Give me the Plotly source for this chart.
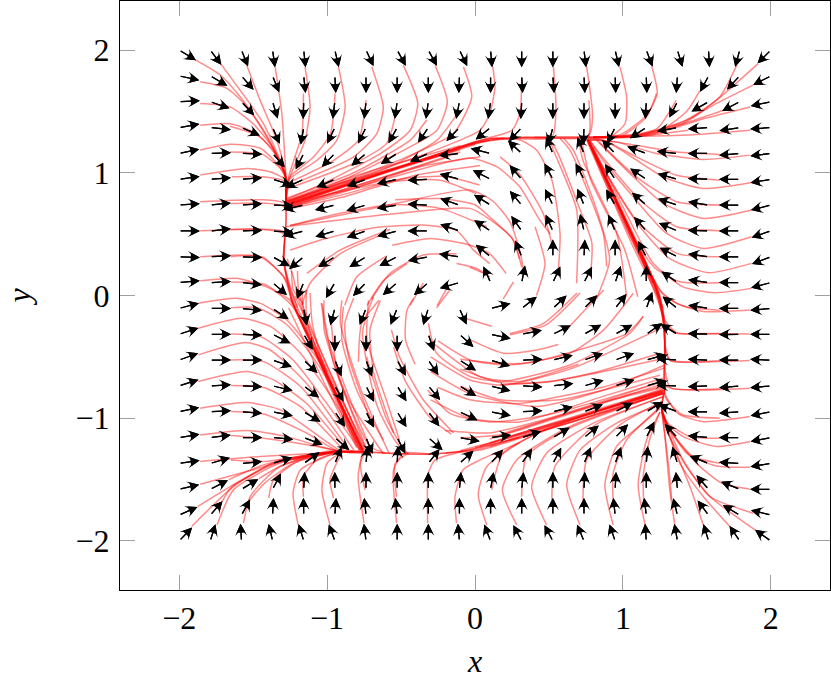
import math
import plotly.graph_objects as go

WIDTH = 831
HEIGHT = 683
L, R, T, B = 120, 1, 1, 93

grid_x = [-2 + i * 4 / 19 for i in range(20)]
grid_y = [2 - i * 4 / 19 for i in range(20)]

# arrow direction, degrees on screen, rows top to bottom
angles = [
    [-31, -53, -68, -82, -84, -77, -65, -61, -61, -64, -85, -90, -90, -83, -77, -69, -73, -87, -105, -135],
    [-12, -30, -49, -68, -84, -87, -90, -90, -90, -92, -90, -87, -86, -87, -88, -88, -94, -118, -133, -153],
    [3, -19, -47, -73, -92, -97, -96, -98, -98, -101, -98, -93, -90, -90, -90, -93, -117, -150, -152, -168],
    [10, -6, -23, -66, -100, -116, -117, -119, -124, -134, -141, -133, -105, -92, -117, -147, -170, -176, -171, -176],
    [12, 2, -2, -49, -117, -134, -140, -147, -156, -174, 166, 137, 113, 112, 134, 160, 174, 180, -175, -173],
    [8, 4, 4, -17, -155, -156, -160, -167, -177, 165, 153, 131, 118, 118, 124, 146, 164, 178, 180, -170],
    [4, 6, 4, -2, -167, -166, -164, -171, 177, 161, 148, 130, 116, 112, 120, 139, 162, 171, 180, -166],
    [0, 6, 2, -4, -165, -163, -161, -165, 180, 161, 147, 125, 114, 103, 113, 131, 157, 178, 180, -161],
    [-2, 3, -2, -29, -140, -148, -148, -153, -169, 172, 141, 112, 90, 87, 90, 118, 153, 172, 180, -159],
    [5, 3, -6, -41, -113, -120, -134, -139, -139, -164, 114, 79, 65, 63, 71, 90, 145, 172, 180, -165],
    [15, 0, -6, -34, -80, -105, -111, -112, -107, -66, 14, 38, 43, 45, 52, 70, 141, 171, 180, -175],
    [18, 0, -3, -27, -60, -90, -90, -90, -71, -42, -12, 11, 26, 29, 29, 35, 149, 178, -179, 180],
    [20, 0, 0, -19, -43, -68, -70, -61, -56, -32, -17, 2, 14, 20, 20, 16, 176, 178, 180, 178],
    [18, 3, -2, -13, -37, -61, -63, -59, -50, -31, -14, -3, 7, 16, 18, 16, 178, -178, -175, -175],
    [12, 3, -4, -11, -31, -56, -63, -59, -53, -25, -11, 3, 14, 21, 27, 31, 160, 180, -176, -169],
    [9, 7, 0, -5, -21, -41, -68, -63, -41, -10, 7, 18, 31, 39, 46, 63, 133, 175, 180, -169],
    [8, 16, 5, 17, 35, 68, 85, 87, 52, 42, 48, 55, 62, 67, 70, 85, 107, 158, 177, -171],
    [13, 27, 31, 62, 87, 90, 90, 90, 90, 85, 80, 84, 90, 87, 87, 90, 95, 131, 158, 180],
    [24, 49, 61, 87, 91, 86, 96, 96, 90, 90, 90, 90, 90, 90, 96, 97, 104, 127, 149, 166],
    [46, 73, 93, 103, 107, 110, 97, 90, 90, 95, 111, 118, 118, 113, 109, 94, 100, 107, 124, 145],
]
arrow_len = 0.14

# trajectories, as (x, y) in axis units
paths_top_left = [
    [(-1.89, 1.92), (-1.72, 1.795), (-1.588, 1.619), (-1.43, 1.347), (-1.284, 0.995), (-1.28, 0.75)],
    [(-1.858, 1.741), (-1.68, 1.69), (-1.54, 1.537), (-1.395, 1.266), (-1.284, 0.98), (-1.28, 0.75)],
    [(-1.72, 1.89), (-1.588, 1.673), (-1.43, 1.4), (-1.28, 0.97), (-1.28, 0.75)],
    [(-1.543, 1.877), (-1.453, 1.592), (-1.34, 1.266), (-1.28, 0.995), (-1.28, 0.75)],
    [(-1.351, 1.863), (-1.306, 1.483), (-1.28, 0.99), (-1.28, 0.75)],
    [(-1.858, 1.565), (-1.656, 1.537), (-1.5, 1.4), (-1.365, 1.2), (-1.28, 0.97), (-1.28, 0.75)],
    [(-1.858, 1.388), (-1.656, 1.4), (-1.5, 1.334), (-1.365, 1.185), (-1.28, 0.965), (-1.28, 0.75)],
    [(-1.656, 1.38), (-1.452, 1.293), (-1.34, 1.13), (-1.28, 0.965), (-1.28, 0.75)],
    [(-1.858, 1.185), (-1.656, 1.233), (-1.452, 1.2), (-1.32, 1.05), (-1.28, 0.955), (-1.28, 0.75)],
    [(-1.656, 1.17), (-1.44, 1.152), (-1.32, 1.04), (-1.28, 0.955), (-1.28, 0.75)],
    [(-1.858, 0.981), (-1.54, 1.035), (-1.385, 1.008), (-1.28, 0.94), (-1.28, 0.75)],
    [(-1.645, 0.967), (-1.44, 0.967), (-1.28, 0.926), (-1.28, 0.75)],
    [(-1.149, 1.863), (-1.115, 1.537), (-1.149, 1.266), (-1.25, 0.967), (-1.28, 0.75)],
    [(-1.16, 1.646), (-1.17, 1.32), (-1.26, 0.967), (-1.28, 0.75)],
    [(-0.946, 1.646), (-0.977, 1.32), (-1.09, 1.13), (-1.26, 0.955), (-1.28, 0.75)],
    [(-0.923, 1.863), (-0.878, 1.537), (-0.934, 1.266), (-1.07, 1.1), (-1.26, 0.94), (-1.28, 0.75)],
    [(-0.736, 1.592), (-0.788, 1.266), (-0.957, 1.1), (-1.26, 0.92)],
    [(-0.698, 1.863), (-0.62, 1.537), (-0.664, 1.32), (-0.82, 1.13), (-1.25, 0.9)],
    [(-0.541, 1.456), (-0.597, 1.24), (-0.82, 1.076), (-1.27, 0.87)],
    [(-0.485, 1.877), (-0.387, 1.565), (-0.438, 1.347), (-0.64, 1.157), (-0.85, 1.02), (-1.05, 0.9), (-1.28, 0.78)],
    [(-0.326, 1.43), (-0.438, 1.266), (-0.82, 1.0), (-1.28, 0.79)],
    [(-0.27, 1.877), (-0.187, 1.578), (-0.257, 1.347), (-0.48, 1.185), (-0.932, 0.92), (-1.28, 0.77)],
    [(-0.134, 1.456), (-0.257, 1.266), (-0.595, 1.04), (-1.28, 0.765)],
    [(-0.078, 1.863), (-0.022, 1.619), (-0.146, 1.32), (-0.48, 1.12), (-0.82, 0.96), (-1.28, 0.755)],
    [(0.12, 1.863), (0.135, 1.7), (0.1, 1.483), (0.034, 1.347), (-0.3, 1.17), (-0.7, 1.0), (-1.28, 0.76)],
    [(0.315, 1.755), (0.304, 1.483), (0.25, 1.347), (0.08, 1.28), (-0.25, 1.14), (-0.7, 0.98), (-1.28, 0.75)],
]
paths_top_edge = [
    [(0.53, 1.863), (0.547, 1.537), (0.52, 1.293), (0.1, 1.28), (-0.2, 1.17), (-0.7, 0.98), (-1.28, 0.75)],
    [(0.755, 1.863), (0.795, 1.456), (0.766, 1.293), (0.35, 1.29), (0.05, 1.27), (-0.3, 1.13), (-1.28, 0.73)],
    [(0.77, 1.59), (0.777, 1.35), (0.76, 1.293), (0.3, 1.285), (0.0, 1.25), (-0.4, 1.09), (-1.28, 0.74)],
    [(0.98, 1.863), (1.025, 1.619), (1.014, 1.4), (0.912, 1.293), (0.76, 1.29), (0.35, 1.29), (0.0, 1.24), (-1.28, 0.72)],
    [(0.2, 1.285), (0.0, 1.24), (-0.5, 1.05), (-1.28, 0.74)],
    [(0.1, 1.27), (-0.1, 1.2), (-0.6, 1.01), (-1.28, 0.735)],
    [(0.0, 1.23), (-0.4, 1.08), (-0.9, 0.89), (-1.28, 0.745)],
    [(-0.1, 1.19), (-0.5, 1.04), (-0.9, 0.88), (-1.28, 0.73)],
    [(-0.1, 1.22), (-0.4, 1.12), (-0.85, 0.96), (-1.28, 0.77)],
    [(-0.2, 1.15), (-0.6, 1.02), (-0.95, 0.9), (-1.28, 0.76)],
    [(-0.1, 1.17), (-0.5, 1.01), (-0.9, 0.86), (-1.28, 0.72)],
    [(-0.2, 1.12), (-0.6, 0.97), (-1.0, 0.82), (-1.28, 0.71)],
    [(1.227, 1.646), (1.16, 1.456), (0.98, 1.293), (0.77, 1.29), (0.4, 1.29)],
    [(1.195, 1.868), (1.232, 1.646), (1.16, 1.47), (0.98, 1.31), (0.77, 1.29)],
    [(1.914, 1.89), (1.633, 1.592), (1.407, 1.4), (1.137, 1.307), (0.8, 1.29)],
    [(1.77, 1.877), (1.655, 1.619), (1.43, 1.43), (1.137, 1.32), (0.8, 1.29)],
    [(1.88, 1.714), (1.633, 1.565), (1.407, 1.415), (1.09, 1.3), (0.8, 1.29)],
    [(1.86, 1.537), (1.543, 1.44), (1.18, 1.307), (0.8, 1.29)],
    [(1.68, 1.51), (1.407, 1.4), (1.05, 1.293), (0.8, 1.285)],
    [(1.52, 1.67), (1.43, 1.5), (1.23, 1.33), (0.8, 1.29)],
    [(1.36, 1.59), (1.23, 1.36), (1.0, 1.295)],
    [(1.86, 1.347), (1.43, 1.307), (0.8, 1.29)],
    [(1.442, 1.347), (1.05, 1.29), (0.8, 1.285)],
]
paths_right = [
    [(1.859, 1.144), (1.543, 1.109), (1.227, 1.157), (0.95, 1.252), (0.77, 1.27)],
    [(1.655, 1.15), (1.363, 1.17), (0.95, 1.252), (0.77, 1.27)],
    [(1.87, 0.921), (1.543, 0.872), (1.273, 0.967), (1.025, 1.157), (0.867, 1.266), (0.76, 1.28)],
    [(1.655, 0.94), (1.363, 0.98), (1.09, 1.13), (0.867, 1.266), (0.76, 1.28)],
    [(1.87, 0.696), (1.543, 0.628), (1.273, 0.75), (1.047, 0.995), (0.822, 1.266)],
    [(1.655, 0.737), (1.363, 0.764), (1.09, 0.967), (0.84, 1.25)],
    [(1.87, 0.479), (1.543, 0.384), (1.295, 0.506), (1.07, 0.804), (0.867, 1.1), (0.777, 1.266)],
    [(1.655, 0.528), (1.363, 0.56), (1.115, 0.778), (0.867, 1.12), (0.77, 1.27)],
    [(1.87, 0.262), (1.577, 0.186), (1.317, 0.3), (1.115, 0.56), (0.912, 0.94), (0.765, 1.26)],
    [(1.655, 0.316), (1.363, 0.343), (1.09, 0.615), (0.867, 1.04), (0.76, 1.27)],
    [(1.87, 0.058), (1.62, 0.023), (1.407, 0.07), (1.205, 0.262), (1.0, 0.723), (0.8, 1.21)],
    [(1.655, 0.104), (1.385, 0.112), (1.22, 0.22), (1.08, 0.45), (0.91, 0.88), (0.77, 1.24)],
    [(1.858, -0.118), (1.543, -0.13), (1.363, -0.064), (1.25, 0.045), (1.08, 0.45), (0.76, 1.27)],
    [(1.655, -0.12), (1.42, -0.09), (1.27, 0.01), (1.09, 0.42), (0.9, 0.92), (0.76, 1.27)],
    [(1.858, -0.314), (1.543, -0.31), (1.363, -0.308), (1.284, -0.227), (1.24, 0.018), (1.08, 0.45), (0.78, 1.24)],
    [(1.655, -0.31), (1.36, -0.3), (1.284, -0.2), (1.23, 0.04), (1.05, 0.5), (0.8, 1.19)],
    [(1.858, -0.53), (1.317, -0.525), (1.284, -0.444), (1.284, -0.227), (1.24, 0.018), (1.07, 0.48), (0.76, 1.27)],
    [(1.655, -0.53), (1.32, -0.53), (1.284, -0.4), (1.27, -0.1), (1.2, 0.12), (0.98, 0.7), (0.77, 1.25)],
    [(1.858, -0.756), (1.543, -0.77), (1.295, -0.742), (1.284, -0.39), (1.25, 0.0), (1.02, 0.6), (0.76, 1.28)],
    [(1.655, -0.76), (1.32, -0.75), (1.284, -0.6), (1.28, -0.25), (1.22, 0.06), (0.95, 0.77)],
    [(1.858, -0.987), (1.543, -1.028), (1.37, -0.96), (1.284, -0.797), (1.284, -0.4), (1.24, 0.02), (0.86, 1.0)],
    [(1.655, -1.0), (1.4, -0.97), (1.284, -0.82), (1.284, -0.3), (1.2, 0.14), (0.77, 1.26)],
    [(1.27, -0.1), (1.1, 0.38), (0.9, 0.9), (0.76, 1.27)],
    [(1.24, -0.02), (1.06, 0.42), (0.88, 0.92), (0.75, 1.28)],
    [(1.28, -0.18), (1.12, 0.32), (0.94, 0.82), (0.77, 1.27)],
    [(1.2, 0.1), (1.02, 0.56), (0.87, 0.98), (0.77, 1.26)],
    [(1.16, 0.2), (0.98, 0.66), (0.84, 1.04), (0.76, 1.27)],
]
paths_bottom_right = [
    [(1.86, -1.19), (1.633, -1.23), (1.407, -1.15), (1.295, -1.04), (1.262, -0.93), (1.284, -0.75)],
    [(1.655, -1.164), (1.453, -1.15), (1.295, -1.03), (1.262, -0.93), (1.284, -0.75)],
    [(1.86, -1.4), (1.633, -1.39), (1.43, -1.285), (1.295, -1.04), (1.262, -0.92), (1.284, -0.75)],
    [(1.655, -1.367), (1.47, -1.31), (1.32, -1.1), (1.262, -0.92)],
    [(1.88, -1.774), (1.588, -1.638), (1.407, -1.34), (1.295, -1.04), (1.262, -0.92)],
    [(1.893, -1.91), (1.588, -1.638), (1.43, -1.395), (1.295, -1.095), (1.262, -0.93)],
    [(1.723, -1.883), (1.543, -1.638), (1.385, -1.367), (1.284, -1.03), (1.262, -0.93)],
    [(1.86, -1.578), (1.67, -1.53), (1.5, -1.37), (1.31, -1.08), (1.262, -0.93)],
    [(1.543, -1.87), (1.453, -1.557), (1.317, -1.15), (1.262, -0.95)],
    [(1.351, -1.87), (1.317, -1.584), (1.284, -1.15), (1.262, -0.93)],
    [(1.33, -1.666), (1.31, -1.4), (1.28, -1.1), (1.262, -0.93)],
    [(1.15, -1.87), (1.103, -1.543), (1.16, -1.177), (1.25, -0.95)],
    [(1.14, -1.666), (1.137, -1.475), (1.18, -1.177), (1.25, -0.95)],
    [(0.934, -1.87), (0.878, -1.543), (0.957, -1.23), (1.137, -1.04), (1.25, -0.92)],
    [(0.934, -1.666), (0.934, -1.448), (1.025, -1.177), (1.25, -0.91)],
    [(0.71, -1.87), (0.62, -1.543), (0.71, -1.26), (0.957, -1.04), (1.262, -0.878)],
    [(0.73, -1.666), (0.755, -1.34), (0.98, -1.054), (1.262, -0.865)],
    [(0.484, -1.87), (0.383, -1.557), (0.484, -1.285), (0.8, -1.04), (1.273, -0.824)],
    [(0.52, -1.666), (0.54, -1.394), (0.82, -1.05), (1.273, -0.824)],
    [(0.282, -1.87), (0.185, -1.584), (0.282, -1.34), (0.642, -1.068), (1.273, -0.797)],
    [(0.315, -1.64), (0.35, -1.31), (0.642, -1.08), (1.273, -0.797)],
    [(0.08, -1.87), (0.022, -1.625), (0.08, -1.394), (0.417, -1.122), (1.273, -0.78)],
    [(0.113, -1.584), (0.19, -1.285), (0.53, -1.068), (1.273, -0.77)],
]
paths_bottom_left = [
    [(-1.87, -0.064), (-1.62, -0.023), (-1.45, -0.064), (-1.272, -0.2), (-1.047, -0.55), (-0.845, -1.04), (-0.76, -1.26)],
    [(-1.65, -0.1), (-1.47, -0.1), (-1.27, -0.24), (-1.03, -0.62), (-0.76, -1.26)],
    [(-1.87, -0.267), (-1.575, -0.186), (-1.38, -0.254), (-1.18, -0.47), (-0.93, -0.905), (-0.77, -1.26)],
    [(-1.65, -0.314), (-1.45, -0.335), (-1.23, -0.525), (-0.96, -0.95), (-0.78, -1.26)],
    [(-1.87, -0.484), (-1.55, -0.384), (-1.385, -0.444), (-1.14, -0.715), (-0.82, -1.258)],
    [(-1.65, -0.525), (-1.43, -0.539), (-1.18, -0.742), (-0.85, -1.26)],
    [(-1.87, -0.7), (-1.54, -0.62), (-1.362, -0.688), (-1.14, -0.878), (-0.866, -1.258)],
    [(-1.65, -0.734), (-1.43, -0.75), (-1.18, -0.905), (-0.89, -1.258)],
    [(-1.858, -0.919), (-1.54, -0.873), (-1.315, -0.932), (-1.115, -1.095), (-0.9, -1.27), (-0.75, -1.27)],
    [(-1.65, -0.946), (-1.43, -0.965), (-1.14, -1.12), (-0.92, -1.27), (-0.75, -1.27)],
    [(-1.858, -1.136), (-1.54, -1.1), (-1.272, -1.15), (-1.05, -1.23), (-0.87, -1.278), (-0.7, -1.28)],
    [(-1.65, -1.14), (-1.43, -1.163), (-1.07, -1.23), (-0.87, -1.278), (-0.7, -1.28)],
    [(-1.858, -1.353), (-1.452, -1.312), (-1.047, -1.285), (-0.82, -1.27), (-0.6, -1.285)],
    [(-1.65, -1.34), (-1.43, -1.353), (-1.047, -1.285), (-0.82, -1.27)],
    [(-1.23, -1.34), (-1.0, -1.285), (-0.82, -1.27)],
    [(-1.858, -1.538), (-1.5, -1.42), (-1.272, -1.34), (-0.955, -1.27), (-0.7, -1.28)],
    [(-1.665, -1.5), (-1.43, -1.38), (-1.13, -1.3), (-0.9, -1.27)],
    [(-1.463, -1.494), (-1.32, -1.394), (-1.0, -1.27), (-0.75, -1.27)],
    [(-1.876, -1.72), (-1.655, -1.557), (-1.362, -1.366), (-0.93, -1.27)],
    [(-1.71, -1.68), (-1.645, -1.56), (-1.34, -1.366), (-0.93, -1.27)],
    [(-1.524, -1.666), (-1.41, -1.516), (-1.227, -1.367), (-0.93, -1.27)],
    [(-1.914, -1.88), (-1.633, -1.557), (-1.34, -1.35), (-0.93, -1.27)],
    [(-1.744, -1.87), (-1.633, -1.584), (-1.32, -1.366), (-0.93, -1.27)],
    [(-1.565, -1.855), (-1.52, -1.638), (-1.32, -1.394), (-0.93, -1.27)],
    [(-1.395, -1.65), (-1.362, -1.5), (-1.18, -1.34), (-0.93, -1.275)],
    [(-1.195, -1.87), (-1.23, -1.61), (-1.18, -1.42), (-0.93, -1.275)],
    [(-1.16, -1.64), (-1.16, -1.475), (-1.07, -1.34), (-0.93, -1.28)],
    [(-0.98, -1.87), (-1.035, -1.584), (-1.0, -1.367), (-0.9, -1.275)],
    [(-0.957, -1.65), (-0.98, -1.5), (-0.9, -1.28)],
    [(-0.75, -1.855), (-0.79, -1.475), (-0.76, -1.27)],
    [(-0.743, -1.584), (-0.775, -1.367), (-0.74, -1.27)],
    [(-0.53, -1.855), (-0.55, -1.42), (-0.48, -1.285), (-0.3, -1.293)],
    [(-0.53, -1.64), (-0.54, -1.37), (-0.45, -1.285)],
    [(-0.32, -1.855), (-0.315, -1.448), (-0.27, -1.34), (-0.08, -1.27), (0.3, -1.16)],
    [(-0.125, -1.855), (-0.135, -1.64), (-0.08, -1.42), (0.034, -1.34), (0.3, -1.2)],
    [(-0.7, -1.28), (-0.35, -1.293), (-0.15, -1.28), (0.034, -1.26), (0.42, -1.12), (1.27, -0.79)],
    [(-0.6, -1.285), (-0.3, -1.293), (-0.1, -1.27), (0.1, -1.22), (0.6, -1.05), (1.27, -0.8)],
    [(-0.2, -1.285), (0.034, -1.25), (0.5, -1.07), (1.27, -0.78)],
    [(-0.1, -1.265), (0.2, -1.17), (0.7, -0.99), (1.27, -0.775)],
    [(0.0, -1.24), (0.4, -1.09), (0.9, -0.91), (1.27, -0.785)],
    [(0.1, -1.2), (0.5, -1.05), (0.9, -0.9), (1.27, -0.77)],
    [(0.034, -1.23), (0.6, -1.03), (1.27, -0.76)],
    [(0.1, -1.23), (0.4, -1.12), (0.85, -0.96), (1.27, -0.8)],
    [(0.2, -1.16), (0.6, -1.02), (0.95, -0.9), (1.27, -0.79)],
    [(0.1, -1.17), (0.5, -1.01), (0.9, -0.86), (1.27, -0.75)],
    [(0.2, -1.12), (0.6, -0.97), (1.0, -0.82), (1.27, -0.74)],
]
paths_left = [
    [(-1.858, 0.764), (-1.43, 0.78), (-1.284, 0.75), (-1.294, 0.29), (-1.238, -0.04), (-1.14, -0.31), (-0.76, -1.26)],
    [(-1.65, 0.75), (-1.29, 0.72), (-1.294, 0.3), (-1.23, -0.04), (-1.1, -0.4), (-0.78, -1.26)],
    [(-1.858, 0.527), (-1.5, 0.54), (-1.294, 0.52), (-1.294, 0.29), (-1.238, -0.04), (-1.12, -0.36), (-0.76, -1.26)],
    [(-1.65, 0.54), (-1.45, 0.54), (-1.294, 0.5), (-1.29, 0.25), (-1.2, -0.1)],
    [(-1.858, 0.316), (-1.452, 0.316), (-1.294, 0.153), (-1.238, -0.04), (-1.1, -0.42), (-0.77, -1.26)],
    [(-1.65, 0.316), (-1.44, 0.316), (-1.28, 0.13), (-1.2, -0.1), (-1.0, -0.62)],
    [(-1.858, 0.12), (-1.61, 0.14), (-1.41, 0.07), (-1.25, -0.04), (-1.12, -0.34), (-0.76, -1.26)],
    [(-1.65, 0.11), (-1.42, 0.09), (-1.24, -0.08), (-1.05, -0.52), (-0.76, -1.26)],
    [(-1.27, 0.3), (-1.23, 0.16), (-1.2, 0.0), (-1.05, -0.5), (-0.75, -1.26)],
    [(-1.2, 0.2), (-1.19, 0.02), (-1.02, -0.52), (-0.74, -1.26)],
    [(-1.14, 0.05), (-1.135, -0.23), (-0.98, -0.66), (-0.73, -1.26)],
    [(-1.25, -0.02), (-1.06, -0.5), (-0.88, -0.95), (-0.76, -1.27)],
    [(-1.22, 0.0), (-1.04, -0.46), (-0.86, -0.95), (-0.75, -1.27)],
    [(-1.26, -0.1), (-1.08, -0.56), (-0.9, -1.0), (-0.77, -1.27)],
]
paths_inner_low = [
    [(-1.034, -0.064), (-0.957, -0.55), (-0.73, -1.26)],
    [(-0.975, -0.17), (-0.93, -0.63), (-0.71, -1.23), (-0.6, -1.285)],
    [(-0.89, -0.09), (-0.9, -0.36), (-0.8, -0.77), (-0.62, -1.18)],
    [(-0.82, -0.02), (-0.88, -0.23), (-0.855, -0.5), (-0.69, -1.07)],
    [(-0.64, -0.04), (-0.71, -0.28), (-0.685, -0.63), (-0.55, -1.12)],
    [(-0.65, -0.04), (-0.766, -0.227), (-0.788, -0.54)],
    [(-1.04, -0.06), (-1.0, -0.335), (-0.87, -0.77), (-0.73, -1.18)],
    [(-1.115, 0.02), (-1.1, -0.227), (-1.03, -0.55), (-0.8, -1.2)],
    [(-1.17, 0.045), (-1.15, -0.227), (-1.0, -0.69), (-0.8, -1.24)],
    [(-0.565, -0.28), (-0.51, -0.5), (-0.35, -0.85), (-0.145, -1.12)],
    [(-0.55, -0.42), (-0.47, -0.7), (-0.3, -1.0), (-0.16, -1.13)],
    [(-0.733, -0.5), (-0.6, -1.0), (-0.47, -1.285)],
    [(-0.687, -0.01), (-0.76, -0.3), (-0.66, -0.905), (-0.53, -1.2), (-0.45, -1.29)],
    [(-1.02, -0.04), (-1.02, -0.28), (-0.867, -0.82), (-0.62, -1.29)],
    [(-0.9, -0.04), (-0.91, -0.227), (-0.77, -0.77), (-0.58, -1.29)],
    [(-0.72, -0.04), (-0.73, -0.36), (-0.6, -0.85), (-0.51, -1.18)],
    [(-0.415, -0.023), (-0.46, -0.12), (-0.47, -0.36), (-0.405, -0.56)],
    [(-0.17, 0.045), (-0.26, -0.1)],
    [(-0.056, -0.19), (0.113, -0.25)],
    [(-0.315, -0.227), (-0.26, -0.47), (-0.034, -0.66), (0.19, -0.7), (0.642, -0.566), (1.047, -0.308), (1.137, -0.172)],
    [(-0.27, -0.4), (0.03, -0.66), (0.3, -0.7), (0.7, -0.56)],
    [(-0.034, -0.36), (0.19, -0.47), (0.417, -0.444), (0.563, -0.4)],
    [(0.236, -0.31), (0.46, -0.23), (0.69, 0.02)],
    [(0.236, -0.32), (0.48, -0.24), (0.71, 0.02)],
    [(0.64, -0.25), (0.87, 0.045)],
    [(-0.1, -0.52), (0.124, -0.55), (0.35, -0.55), (0.71, -0.44), (1.025, -0.31), (1.137, -0.17)],
    [(-0.25, -0.37), (-0.034, -0.525), (0.236, -0.566), (0.642, -0.47), (0.87, -0.28), (1.07, 0.018)],
    [(-0.3, -0.5), (-0.034, -0.688), (0.19, -0.73), (0.642, -0.6), (1.27, -0.26)],
    [(-0.1, -0.6), (0.17, -0.71), (0.46, -0.71), (0.8, -0.63), (1.25, -0.47)],
    [(0.17, -0.73), (0.57, -0.69), (1.25, -0.52)],
    [(-0.3, -0.62), (-0.034, -0.8), (0.417, -0.905), (0.87, -0.77), (1.284, -0.566)],
    [(-0.1, -0.74), (0.17, -0.85), (0.57, -0.85), (1.25, -0.65)],
    [(-0.25, -0.75), (-0.034, -0.85), (0.3, -0.88), (0.87, -0.745), (1.284, -0.59)],
    [(-0.3, -0.85), (-0.034, -1.0), (0.304, -1.03), (0.87, -0.82), (1.27, -0.675)],
    [(-0.32, -0.77), (-0.17, -0.96), (0.1, -1.03), (0.5, -0.97), (1.27, -0.7)],
    [(-0.2, -1.1), (0.1, -1.12), (0.5, -1.0), (1.27, -0.7)],
    [(-0.1, -1.16), (0.2, -1.13), (0.6, -0.98), (1.27, -0.72)],
]
paths_inner_high = [
    [(0.563, 0.2), (0.575, 0.5), (0.52, 0.94), (0.416, 1.185), (0.304, 1.267), (0.1, 1.28)],
    [(0.687, 0.1), (0.687, 0.7), (0.53, 1.185), (0.507, 1.266)],
    [(0.78, 0.15), (0.79, 0.43), (0.71, 0.7), (0.55, 1.185), (0.5, 1.28)],
    [(0.89, 0.235), (0.867, 0.506), (0.642, 1.185), (0.575, 1.28)],
    [(0.82, -0.03), (0.91, 0.29), (0.83, 0.67), (0.665, 1.185), (0.6, 1.28)],
    [(1.025, -0.01), (0.958, 0.506), (0.73, 1.1), (0.7, 1.28)],
    [(1.1, -0.01), (1.01, 0.38), (0.78, 0.95), (0.72, 1.27)],
    [(0.416, 0.0), (0.473, 0.26), (0.406, 0.56)],
    [(0.19, -0.03), (0.26, 0.11)],
    [(0.53, 0.37), (0.46, 0.67), (0.3, 0.99), (0.17, 1.13)],
    [(0.51, 0.5), (0.44, 0.61), (0.3, 0.89), (0.146, 1.05), (-0.034, 1.12), (-0.6, 0.95), (-1.28, 0.72)],
    [(0.326, 0.22), (0.304, 0.36), (0.236, 0.6), (0.12, 0.77), (-0.034, 0.86), (-0.574, 0.74), (-1.25, 0.57)],
    [(0.316, 0.23), (0.26, 0.45), (0.1, 0.64), (0.0, 0.74), (-0.236, 0.79), (-0.54, 0.78)],
    [(0.3, 0.3), (0.25, 0.47), (0.1, 0.62), (-0.034, 0.71), (-0.6, 0.66), (-1.28, 0.56)],
    [(0.21, 0.18), (0.1, 0.34), (-0.034, 0.41), (-0.3, 0.465), (-0.56, 0.41)],
    [(0.06, 0.18), (-0.034, 0.23)],
    [(0.1, 0.26), (-0.01, 0.37), (-0.125, 0.53), (-0.35, 0.574), (-0.69, 0.55), (-1.02, 0.46), (-1.25, 0.37)],
    [(0.034, 1.13), (-0.37, 1.05), (-0.9, 0.84), (-1.28, 0.71)],
    [(0.034, 1.06), (-0.4, 0.98), (-0.9, 0.8), (-1.28, 0.7)],
    [(0.01, 0.83), (-0.236, 0.94), (-0.574, 0.927), (-0.912, 0.845), (-1.25, 0.75)],
    [(0.03, 0.9), (-0.2, 0.97), (-0.5, 0.95), (-0.9, 0.82), (-1.25, 0.72)],
    [(0.08, 0.56), (-0.236, 0.71), (-0.574, 0.74), (-0.912, 0.67), (-1.25, 0.57)],
    [(-0.574, 0.54), (-0.912, 0.37), (-1.137, 0.18)],
    [(-0.62, 0.5), (-0.912, 0.34), (-1.115, 0.1), (-1.17, -0.08)],
    [(-0.6, 0.32), (-0.8, 0.15), (-0.88, -0.08)],
    [(-0.125, 0.34), (-0.35, 0.33), (-0.574, 0.18), (-0.7, -0.03)],
    [(-0.46, 0.26), (-0.62, 0.12), (-0.73, -0.08)],
    [(-0.35, 0.1), (-0.44, -0.08)],
    [(-0.19, 0.06), (-0.255, -0.08)],
    [(0.1, 0.15), (0.01, 0.22), (-0.125, 0.26)],
    [(-1.24, 0.2), (-1.23, 0.05), (-1.16, -0.07)],
]
all_paths = (paths_top_left + paths_top_edge + paths_right + paths_bottom_right
             + paths_bottom_left + paths_left + paths_inner_low + paths_inner_high)

fig = go.Figure()

for path in all_paths:
    fig.add_trace(go.Scatter(x=[p[0] for p in path], y=[p[1] for p in path], mode="lines",
                             line=dict(color="red", width=1.5, shape="spline", smoothing=0.6),
                             opacity=0.45, hoverinfo="skip", showlegend=False))

plot_w = WIDTH - L - R
plot_h = HEIGHT - T - B
x_scale = plot_w / 4.8
y_scale = plot_h / 4.8

# barbed head plus a flat one on top, together they look like a stealth tip
for head, size in [(3, 1.6), (2, 1.45)]:
    for j, row in enumerate(angles):
        for i, a in enumerate(row):
            ux = math.cos(math.radians(a)) / x_scale
            uy = math.sin(math.radians(a)) / y_scale
            n = math.hypot(ux, uy)
            fig.add_annotation(x=grid_x[i] + arrow_len * ux / n, y=grid_y[j] + arrow_len * uy / n,
                               ax=grid_x[i], ay=grid_y[j], xref="x", yref="y", axref="x", ayref="y",
                               text="", showarrow=True, arrowhead=head, arrowsize=size, arrowwidth=1.25,
                               arrowcolor="black")

serif = "Times New Roman, Liberation Serif, serif"
tick_vals = [-2, -1, 0, 1, 2]
tick_text = ["\u22122", "\u22121", "0", "1", "2"]
axis_style = dict(range=[-2.4, 2.4], tickvals=tick_vals, ticktext=tick_text, ticks="inside",
                  ticklen=15, tickwidth=1, tickcolor="#a0a0a0", showgrid=False, zeroline=False,
                  showline=True, linecolor="black", linewidth=1, mirror="ticks",
                  tickfont=dict(family=serif, size=32, color="black"))
fig.update_xaxes(title=dict(text="<i>x</i>", font=dict(family=serif, size=32, color="black"), standoff=14), **axis_style)
fig.update_yaxes(title=dict(text="<i>y</i>", font=dict(family=serif, size=32, color="black"), standoff=35),
                 ticklabelstandoff=3, **axis_style)

fig.update_layout(width=WIDTH, height=HEIGHT, margin=dict(l=L, r=R, t=T, b=B),
                  font=dict(family=serif),
                  plot_bgcolor="white", paper_bgcolor="white", showlegend=False)
fig.write_html("out.html", config={"displayModeBar": False},
               post_script="document.body.style.margin='0';")
